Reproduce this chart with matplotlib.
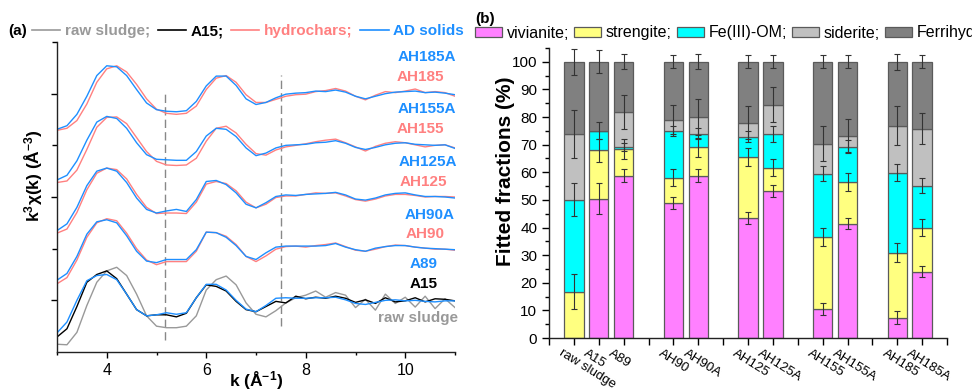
import matplotlib
matplotlib.use("Agg")
import matplotlib.pyplot as plt
from matplotlib.lines import Line2D
from matplotlib.patches import Patch
from matplotlib.ticker import MultipleLocator, FixedLocator
from matplotlib.transforms import ScaledTranslation
import numpy as np

plt.rcParams['font.family'] = ['Liberation Sans', 'DejaVu Sans']
plt.rcParams['mathtext.fontset'] = 'custom'
plt.rcParams['mathtext.rm'] = 'Liberation Sans'
plt.rcParams['mathtext.bf'] = 'Liberation Sans:bold'
plt.rcParams['mathtext.default'] = 'bf'

# ---- (a) k3-weighted EXAFS (offset units) ----
k = np.arange(3.0, 11.01, 0.2)

raw_sludge = [-0.85, -0.86, -0.62, -0.10, 0.35, 0.57, 0.64, 0.48, 0.12, -0.30,
              -0.50, -0.53, -0.53, -0.50, -0.30, 0.20, 0.40, 0.47, 0.30, -0.05,
              -0.27, -0.32, -0.20, -0.05, 0.05, 0.10, 0.18, 0.06, 0.15, 0.10,
              -0.14, 0.02, -0.19, 0.12, -0.06, 0.06, -0.13, 0.08, -0.16, 0.03, -0.14]
a15 = [-0.71, -0.55, -0.12, 0.35, 0.50, 0.57, 0.42, 0.12, -0.18, -0.30,
       -0.28, -0.28, -0.32, -0.25, 0.05, 0.30, 0.27, 0.18, -0.02, -0.18,
       -0.22, -0.12, -0.02, -0.05, 0.08, 0.03, 0.06, 0.04, 0.08, 0.04,
       -0.04, 0.01, -0.06, 0.05, -0.03, -0.01, 0.05, -0.03, 0.03, 0.02, -0.01]
a89 = [-0.63, -0.42, 0.00, 0.38, 0.48, 0.50, 0.40, 0.12, -0.18, -0.30,
       -0.28, -0.24, -0.27, -0.24, 0.05, 0.31, 0.31, 0.20, 0.00, -0.17,
       -0.22, -0.10, 0.04, 0.05, 0.04, 0.04, 0.05, 0.05, 0.06, 0.01,
       -0.06, -0.08, -0.04, 0.00, 0.01, -0.01, 0.00, -0.02, -0.03, -0.01, -0.01]
ah90 = [-0.68, -0.56, -0.22, 0.22, 0.50, 0.58, 0.54, 0.30, 0.00, -0.22,
        -0.31, -0.25, -0.25, -0.25, -0.05, 0.32, 0.31, 0.24, 0.08, -0.15,
        -0.25, -0.14, -0.01, 0.04, 0.05, 0.03, 0.06, 0.08, 0.11, 0.04,
        -0.03, -0.05, -0.01, 0.04, 0.07, 0.06, 0.03, 0.01, -0.01, -0.01, -0.03]
ah90a = [-0.61, -0.48, -0.15, 0.28, 0.52, 0.56, 0.50, 0.25, -0.05, -0.24,
         -0.27, -0.21, -0.21, -0.21, -0.02, 0.32, 0.31, 0.22, 0.06, -0.15,
         -0.21, -0.08, 0.03, 0.05, 0.05, 0.05, 0.05, 0.06, 0.10, 0.03,
         -0.02, -0.05, 0.01, 0.04, 0.06, 0.06, 0.03, 0.01, 0.00, -0.01, -0.02]
ah125 = [-0.70, -0.62, -0.30, 0.14, 0.46, 0.56, 0.53, 0.35, 0.05, -0.20,
         -0.32, -0.31, -0.31, -0.32, -0.10, 0.25, 0.30, 0.26, 0.12, -0.10,
         -0.21, -0.14, -0.01, 0.02, 0.02, 0.05, 0.08, 0.07, 0.08, 0.02,
         -0.05, -0.08, -0.04, 0.02, 0.05, 0.05, 0.03, 0.00, 0.01, 0.01, 0.00]
ah125a = [-0.65, -0.52, -0.20, 0.22, 0.50, 0.56, 0.50, 0.28, -0.02, -0.24,
          -0.31, -0.27, -0.24, -0.28, -0.05, 0.30, 0.32, 0.24, 0.08, -0.14,
          -0.21, -0.11, 0.01, 0.04, 0.03, 0.05, 0.06, 0.07, 0.09, 0.04,
          -0.04, -0.06, -0.02, 0.04, 0.07, 0.08, 0.04, 0.01, 0.01, 0.00, -0.02]
ah155 = [-0.72, -0.69, -0.48, -0.08, 0.35, 0.54, 0.55, 0.42, 0.15, -0.12,
         -0.31, -0.38, -0.39, -0.38, -0.25, 0.08, 0.33, 0.37, 0.24, 0.02,
         -0.16, -0.19, -0.09, -0.03, 0.00, 0.03, 0.07, 0.10, 0.12, 0.05,
         -0.03, -0.11, -0.02, 0.04, 0.07, 0.05, 0.01, -0.03, 0.00, 0.01, -0.05]
ah155a = [-0.67, -0.58, -0.30, 0.10, 0.45, 0.56, 0.52, 0.33, 0.05, -0.18,
          -0.27, -0.28, -0.29, -0.29, -0.12, 0.18, 0.33, 0.31, 0.17, -0.05,
          -0.20, -0.15, -0.05, 0.00, 0.01, 0.02, 0.05, 0.06, 0.09, 0.04,
          -0.04, -0.08, -0.04, 0.01, 0.04, 0.05, 0.02, 0.01, 0.00, 0.01, -0.06]
ah185 = [-0.71, -0.67, -0.52, -0.20, 0.22, 0.48, 0.54, 0.42, 0.18, -0.10,
         -0.30, -0.38, -0.40, -0.38, -0.24, 0.08, 0.30, 0.35, 0.22, -0.02,
         -0.17, -0.17, -0.11, -0.05, -0.02, -0.01, 0.04, 0.06, 0.10, 0.05,
         -0.05, -0.12, -0.03, 0.04, 0.02, 0.05, 0.09, 0.02, 0.04, 0.02, -0.05]
ah185a = [-0.69, -0.62, -0.40, -0.05, 0.35, 0.54, 0.52, 0.35, 0.08, -0.18,
          -0.31, -0.34, -0.35, -0.33, -0.15, 0.15, 0.34, 0.34, 0.16, -0.10,
          -0.21, -0.17, -0.08, -0.01, 0.01, 0.02, 0.05, 0.04, 0.07, 0.03,
          -0.05, -0.10, -0.05, 0.00, 0.03, 0.04, 0.05, 0.02, 0.03, 0.01, -0.02]

GRAY, BLACK, RED, BLUE = '#999999', '#000000', '#ff8080', '#1e8fff'

# (name, values, offset, colour)
curves = [
    ('raw sludge', raw_sludge, 1, GRAY),
    ('A15', a15, 1, BLACK),
    ('A89', a89, 1, BLUE),
    ('AH90', ah90, 2, RED),
    ('AH90A', ah90a, 2, BLUE),
    ('AH125', ah125, 3, RED),
    ('AH125A', ah125a, 3, BLUE),
    ('AH155', ah155, 4, RED),
    ('AH155A', ah155a, 4, BLUE),
    ('AH185', ah185, 5, RED),
    ('AH185A', ah185a, 5, BLUE),
]
# label spots (k, y) for each curve name
label_pos = {
    'AH185A': (10.44, 5.71), 'AH185': (10.31, 5.33),
    'AH155A': (10.44, 4.70), 'AH155': (10.31, 4.32),
    'AH125A': (10.46, 3.68), 'AH125': (10.36, 3.29),
    'AH90A': (10.49, 2.65), 'AH90': (10.39, 2.28),
    'A89': (10.37, 1.70), 'A15': (10.37, 1.32), 'raw sludge': (10.25, 0.66),
}
dash_k = [5.18, 7.51]
dash_lo = [0.23, 0.50]
dash_hi = [5.06, 5.36]

# ---- (b) linear combination fit fractions (%) ----
samples = ['raw sludge', 'A15', 'A89', 'AH90', 'AH90A', 'AH125', 'AH125A',
           'AH155', 'AH155A', 'AH185', 'AH185A']
groups = [3, 2, 2, 2, 2]
vivianite = [0.0, 50.5, 58.8, 48.8, 58.8, 43.6, 53.3, 10.6, 41.4, 7.4, 24.0]
strengite = [16.7, 17.4, 9.6, 9.3, 10.3, 21.9, 8.3, 26.0, 15.1, 23.5, 16.0]
fe_om = [33.4, 7.2, 0.8, 17.0, 4.9, 7.4, 12.1, 22.9, 12.8, 29.0, 15.2]
siderite = [23.6, 0.0, 12.7, 4.0, 6.1, 5.1, 10.8, 10.8, 3.9, 16.9, 20.6]
ferrihydrite = [26.3, 24.9, 18.1, 20.9, 19.9, 22.0, 15.5, 29.7, 26.8, 23.2, 24.2]
viv_err = [0.0, 5.6, 2.3, 2.1, 2.3, 2.2, 2.2, 2.1, 2.1, 2.2, 2.0]
str_err = [6.3, 4.2, 3.6, 3.2, 3.4, 3.2, 3.1, 3.3, 3.1, 3.4, 3.0]
feom_err = [6.0, 3.1, 1.5, 1.8, 1.9, 1.9, 2.9, 2.6, 2.4, 3.2, 2.7]
sid_err = [8.7, 0.0, 6.2, 5.4, 6.6, 5.9, 6.2, 6.3, 6.0, 7.1, 5.6]
fer_err = [4.8, 4.2, 2.7, 2.4, 2.7, 2.4, 2.4, 2.4, 2.4, 2.8, 2.4]
phases = ['vivianite;', 'strengite;', 'Fe(III)-OM;', 'siderite;', 'Ferrihydrite']
phase_colors = ['#ff80ff', '#ffff80', '#00ffff', '#c0c0c0', '#808080']

fig = plt.figure(figsize=(9.72, 3.92), dpi=100)
ax1 = fig.add_axes([57 / 972, 40 / 392, 398 / 972, 310 / 392])
ax2 = fig.add_axes([549 / 972, 54 / 392, 398 / 972, 290 / 392])

for ax in (ax1, ax2):
    for s in ('top', 'right'):
        ax.spines[s].set_visible(False)
    for s in ('left', 'bottom'):
        ax.spines[s].set_linewidth(1.0)
        ax.spines[s].set_color('#222222')

# panel a
ax1.vlines(dash_k, dash_lo, dash_hi, colors='#888888', linestyles=(0, (6, 3)), lw=1.0)
for name, vals, off, col in curves:
    ax1.plot(k, np.array(vals) + off, color=col, lw=1.0)
for name, vals, off, col in curves:
    tx, ty = label_pos[name]
    ax1.text(tx, ty, name, color=col, ha='center', va='center',
             fontsize=11, fontweight='bold')
ax1.set_xlim(3, 11)
ax1.set_ylim(0, 6)
ax1.xaxis.set_major_locator(FixedLocator([4, 6, 8, 10]))
ax1.xaxis.set_minor_locator(FixedLocator([3, 5, 7, 9, 11]))
ax1.yaxis.set_major_locator(FixedLocator([1, 3, 5]))
ax1.yaxis.set_minor_locator(FixedLocator([2, 4, 6]))
ax1.tick_params(which='major', direction='out', length=4.5, width=1.0, labelsize=11.5)
ax1.tick_params(which='minor', direction='out', length=2.5, width=1.0)
ax1.tick_params(axis='y', which='major', length=4.5)
ax1.tick_params(axis='y', which='minor', length=3.5)
ax1.set_yticklabels([])
ax1.set_xlabel(r'k (Å$^{-1}$)', fontsize=12.5, fontweight='bold')
ax1.xaxis.set_label_coords(0.5, -0.055)
ax1.set_ylabel(r'k$^{3}$χ(k) (Å$^{-3}$)', fontsize=12.5, fontweight='bold')
ax1.yaxis.set_label_coords(-0.03, 0.57)

# panel b
pos = []
p = 0
for g in groups:
    pos.extend(range(p, p + g))
    p += g + 1
pos = np.array(pos)
bottom = np.zeros(len(samples))
comps = [vivianite, strengite, fe_om, siderite, ferrihydrite]
errs = [viv_err, str_err, feom_err, sid_err, fer_err]
for vals, err, col in zip(comps, errs, phase_colors):
    vals = np.array(vals)
    err = np.array(err)
    ax2.bar(pos, vals, width=0.78, bottom=bottom, color=col,
            edgecolor='#5a5a5a', linewidth=0.9)
    top = bottom + vals
    m = err > 0
    ax2.errorbar(pos[m], top[m], yerr=err[m], fmt='none', ecolor='#333333',
                 elinewidth=0.8, capsize=2.5, capthick=0.8, zorder=3)
    bottom = top
ax2.set_xlim(-1, 15)
ax2.set_ylim(0, 105)
ax2.yaxis.set_major_locator(MultipleLocator(10))
ax2.yaxis.set_minor_locator(MultipleLocator(5))
ax2.set_xticks(range(-1, 16))
ax2.set_xticklabels([])
ax2.tick_params(which='major', direction='out', length=5, width=1.0, labelsize=11)
ax2.tick_params(which='minor', direction='out', length=3, width=1.0)
# slanted sample names, anchored just left of each tick
name_tr = ax2.get_xaxis_transform() + ScaledTranslation(-11 / 100, -9 / 100, fig.dpi_scale_trans)
for s, q in zip(samples, pos):
    ax2.text(q, 0, s, transform=name_tr, rotation=-32, ha='left', va='top',
             rotation_mode='anchor', fontsize=9.5)
ax2.set_ylabel('Fitted fractions (%)', fontsize=15, fontweight='bold')
ax2.yaxis.set_label_coords(-0.085, 0.576)

# legends
fig.text(8 / 972, 1 - 31 / 392, '(a)', fontsize=11, fontweight='bold', va='center')
fig.text(475 / 972, 1 - 19 / 392, '(b)', fontsize=11, fontweight='bold', va='center')
h1 = [Line2D([], [], color=c, lw=1.2) for c in (GRAY, BLACK, RED, BLUE)]
fig.legend(h1, ['raw sludge;', 'A15;', 'hydrochars;', 'AD solids'],
           loc='center left', bbox_to_anchor=(32 / 972, 1 - 31 / 392), ncol=4,
           frameon=False, handlelength=1.85, handletextpad=0.3, columnspacing=0.5,
           borderaxespad=0, borderpad=0, prop={'weight': 'bold', 'size': 11},
           labelcolor=[GRAY, BLACK, RED, BLUE])
h2 = [Patch(facecolor=c, edgecolor='#5a5a5a', linewidth=0.9) for c in phase_colors]
fig.legend(h2, phases, loc='center left', bbox_to_anchor=(475 / 972, 1 - 33 / 392),
           ncol=5, frameon=False, handlelength=1.7, handleheight=0.65,
           handletextpad=0.3, columnspacing=0.3, borderaxespad=0, borderpad=0,
           prop={'size': 11.5})

fig.savefig('out.png', dpi=100)
